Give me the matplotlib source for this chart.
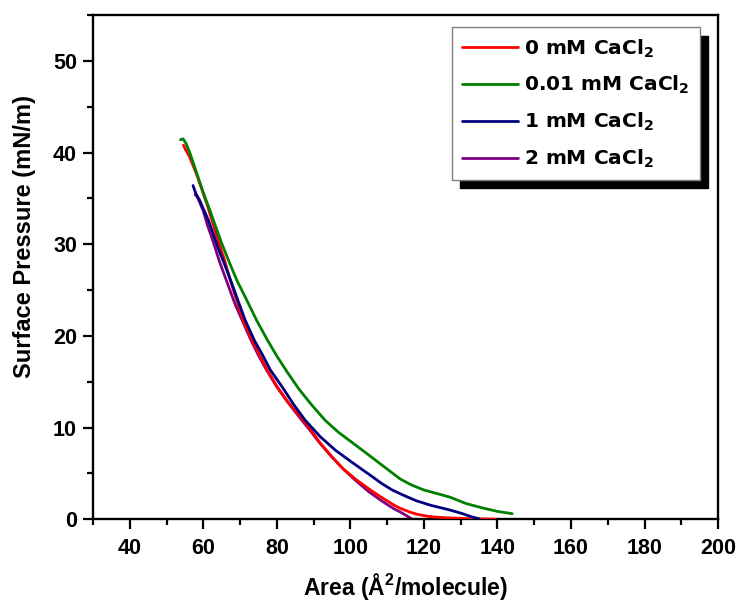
"""Surface pressure - area isotherms for several CaCl2 subphase concentrations."""
import matplotlib
matplotlib.use("Agg")
import matplotlib.pyplot as plt
from matplotlib.ticker import MultipleLocator

plt.rcParams["font.family"] = ["Liberation Sans", "DejaVu Sans"]
plt.rcParams["font.weight"] = "bold"
plt.rcParams["mathtext.fontset"] = "custom"
plt.rcParams["mathtext.rm"] = "Liberation Sans:bold"
plt.rcParams["mathtext.bf"] = "Liberation Sans:bold"
plt.rcParams["mathtext.default"] = "bf"

# Area (A^2/molecule) and surface pressure (mN/m)
area_0 = [54.6, 55.2, 56.2, 57.2, 58.2, 59.6, 61.3, 62.5, 63.7, 65.6, 67.4,
          69.0, 71.0, 73.3, 75.4, 77.5, 80.0, 83.0, 86.3, 89.3, 91.8, 95.0,
          98.0, 101.6, 105.4, 108.0, 110.0, 112.0, 113.5, 116.0, 118.0, 120.5,
          122.5, 126.0, 131.0, 135.0, 139.4]
pres_0 = [40.8, 40.3, 39.6, 38.6, 37.6, 36.0, 34.0, 32.4, 30.8, 28.5, 26.0,
          24.0, 21.5, 19.5, 17.8, 16.2, 14.5, 12.8, 11.2, 9.7, 8.3, 6.8,
          5.5, 4.3, 3.2, 2.5, 2.0, 1.5, 1.2, 0.8, 0.55, 0.35,
          0.25, 0.15, 0.08, 0.03, 0.0]

area_001 = [53.8, 54.5, 55.3, 56.5, 58.5, 60.1, 61.8, 63.3, 65.1, 67.1, 69.2,
            71.7, 74.5, 77.5, 80.0, 82.9, 86.0, 89.4, 93.1, 96.7, 100.7, 105.0,
            109.9, 113.5, 116.5, 119.9, 123.5, 127.1, 131.5, 136.2, 140.0, 144.0]
pres_001 = [41.4, 41.5, 41.0, 39.8, 37.4, 35.5, 33.7, 32.0, 30.0, 28.0, 26.0,
            24.0, 21.7, 19.5, 17.8, 16.0, 14.2, 12.5, 10.8, 9.5, 8.3, 7.0,
            5.5, 4.4, 3.75, 3.2, 2.8, 2.4, 1.7, 1.2, 0.85, 0.6]

area_1 = [57.2, 58.0, 59.0, 60.2, 61.4, 62.8, 64.0, 65.6, 67.5, 69.3, 71.4,
          73.9, 76.0, 78.2, 81.5, 84.6, 87.7, 91.8, 96.0, 100.8, 105.4, 108.5,
          111.3, 114.5, 118.0, 122.0, 127.1, 130.5, 133.0, 135.0]
pres_1 = [36.4, 35.5, 34.8, 33.7, 32.6, 31.0, 29.6, 28.0, 26.0, 24.0, 21.7,
          19.5, 18.0, 16.3, 14.4, 12.5, 10.8, 9.0, 7.5, 6.1, 4.8, 3.9,
          3.2, 2.6, 2.0, 1.5, 1.0, 0.6, 0.25, 0.05]

area_2 = [57.8, 58.3, 59.0, 60.0, 61.2, 62.5, 64.5, 66.5, 68.6, 70.8, 73.0,
          75.1, 77.3, 79.9, 82.9, 86.0, 89.0, 91.5, 94.7, 98.0, 101.5, 105.0,
          107.8, 110.0, 112.0, 113.5, 115.2, 116.8]
pres_2 = [35.4, 35.2, 34.6, 33.6, 32.0, 30.5, 28.0, 25.8, 23.5, 21.5, 19.5,
          17.8, 16.2, 14.5, 12.8, 11.2, 9.7, 8.4, 6.9, 5.5, 4.2, 3.0,
          2.2, 1.6, 1.1, 0.8, 0.4, 0.0]

labels = ["0 mM CaCl$_2$", "0.01 mM CaCl$_2$", "1 mM CaCl$_2$", "2 mM CaCl$_2$"]
colors = ["#ff0000", "#008000", "#000080", "#800080"]

fig = plt.figure(figsize=(7.38, 6.03), dpi=100)
ax = fig.add_axes([0.126, 0.139, 0.847, 0.836])

series = [(area_0, pres_0), (area_001, pres_001), (area_1, pres_1), (area_2, pres_2)]
zorders = [3, 5, 4, 2]
handles = []
for (a, p), lab, col, z in zip(series, labels, colors, zorders):
    h, = ax.plot(a, p, color=col, lw=2.0, label=lab, zorder=z,
                 solid_joinstyle="round", solid_capstyle="round")
    handles.append(h)

ax.set_xlim(30, 200)
ax.set_ylim(0, 55)
ax.xaxis.set_major_locator(MultipleLocator(20))
ax.xaxis.set_minor_locator(MultipleLocator(10))
ax.yaxis.set_major_locator(MultipleLocator(10))
ax.yaxis.set_minor_locator(MultipleLocator(5))
ax.tick_params(which="both", direction="out", width=1.6, labelsize=15.5)
ax.tick_params(axis="x", pad=6)
ax.tick_params(axis="y", pad=4)
ax.tick_params(which="major", length=7.5)
ax.tick_params(which="minor", length=4.5)
ax.tick_params(top=False, right=False)
for s in ax.spines.values():
    s.set_linewidth(1.7)

ax.set_xlabel("Area (Å$^2$/molecule)", fontsize=16.5, fontweight="bold", labelpad=9)
ax.set_ylabel("Surface Pressure (mN/m)", fontsize=17, fontweight="bold")
ax.yaxis.set_label_coords(-0.091, 0.56)

leg = ax.legend(handles=handles, loc="upper right", bbox_to_anchor=(0.971, 0.976),
                borderaxespad=0, handlelength=2.8, handletextpad=0.3,
                labelspacing=0.72, borderpad=0.5, fancybox=False, framealpha=1,
                edgecolor="#808080",
                prop={"family": "DejaVu Sans", "weight": "bold", "size": 14.5,
                      "math_fontfamily": "dejavusans"},
                shadow={"facecolor": "black", "edgecolor": "black", "alpha": 1,
                        "ox": 6, "oy": -6})
leg.get_frame().set_linewidth(1.0)

fig.savefig("out.png", dpi=100)
